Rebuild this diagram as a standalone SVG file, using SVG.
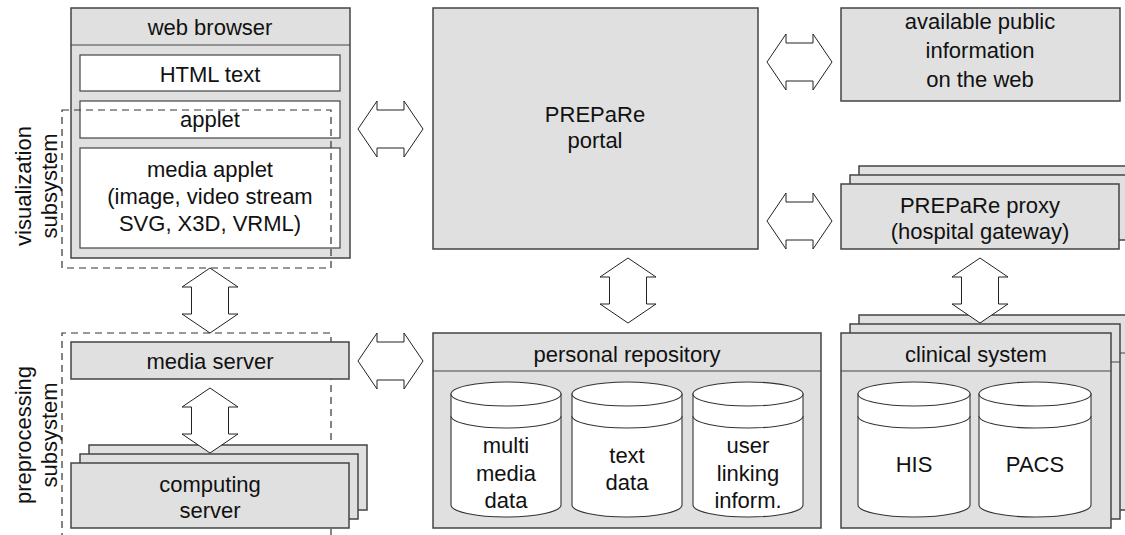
<svg xmlns="http://www.w3.org/2000/svg" width="1125" height="535" viewBox="0 0 1125 535">
<style>
.box{fill:#e0e0e0;stroke:#444;stroke-width:1.5}
.wbox{fill:#fff;stroke:#444;stroke-width:1.2}
.ln{fill:none;stroke:#444;stroke-width:1.2}
.dash{fill:none;stroke:#333;stroke-width:1.2;stroke-dasharray:7,5}
.arr{fill:#fff;stroke:#222;stroke-width:1}
.cyl{fill:#fff;stroke:#333;stroke-width:1.1}
text{font-family:"Liberation Sans",Arial,sans-serif;font-size:22px;fill:#111;text-anchor:middle}
</style>
<defs>
<polygon id="harr" class="arr" points="0,0 19,-28 19,-19 46,-19 46,-28 65,0 46,28 46,19 19,19 19,28"/>
<polygon id="varr" class="arr" points="0,0 -28,19 -18.5,19 -18.5,46 -28,46 0,65 28,46 18.5,46 18.5,19 28,19"/>
</defs>

<g id="web-browser">
<rect class="box" x="71" y="8" width="279" height="250"/>
<line class="ln" x1="71" y1="45" x2="350" y2="45"/>
<text x="210" y="35">web browser</text>
<rect class="wbox" x="80" y="55" width="260" height="36"/>
<text x="210" y="82">HTML text</text>
<rect class="wbox" x="80" y="101" width="260" height="37"/>
<text x="210" y="127">applet</text>
<rect class="wbox" x="80" y="148" width="260" height="100"/>
<text x="210" y="177">media applet</text>
<text x="210" y="204">(image, video stream</text>
<text x="210" y="231">SVG, X3D, VRML)</text>
</g>

<g id="visualization-subsystem">
<rect class="dash" x="62" y="110" width="269" height="158"/>
<text transform="translate(31,186) rotate(-90)">visualization</text>
<text transform="translate(57,186) rotate(-90)">subsystem</text>
</g>

<g id="portal">
<rect class="box" x="433" y="8" width="325" height="241"/>
<text x="595" y="122">PREPaRe</text>
<text x="595" y="148">portal</text>
</g>

<g id="public-info">
<rect class="box" x="841" y="8" width="279" height="93"/>
<text x="980" y="29">available public</text>
<text x="980" y="58">information</text>
<text x="980" y="87">on the web</text>
</g>

<g id="proxy">
<rect class="box" x="859" y="166" width="278" height="65"/>
<rect class="box" x="850" y="175" width="278" height="65"/>
<rect class="box" x="841" y="184" width="278" height="65"/>
<text x="980" y="213">PREPaRe proxy</text>
<text x="980" y="239">(hospital gateway)</text>
</g>

<g id="preprocessing-subsystem">
<path class="dash" d="M62,540 V333 H331 V540"/>
<text transform="translate(31,435) rotate(-90)">preprocessing</text>
<text transform="translate(57,435) rotate(-90)">subsystem</text>
</g>

<g id="media-server">
<rect class="box" x="71" y="342" width="278" height="37"/>
<text x="210" y="369">media server</text>
</g>

<g id="computing-server">
<rect class="box" x="89" y="445" width="278" height="65"/>
<rect class="box" x="80" y="454" width="278" height="65"/>
<rect class="box" x="71" y="463" width="278" height="65"/>
<text x="210" y="492">computing</text>
<text x="210" y="518">server</text>
</g>

<g id="personal-repository">
<rect class="box" x="433" y="333" width="388" height="195"/>
<line class="ln" x1="433" y1="371" x2="821" y2="371"/>
<text x="627" y="362">personal repository</text>
<g id="cyl-multimedia">
<path class="cyl" d="M451,394 V505 A55,12 0 0 0 561,505 V394 Z"/>
<ellipse class="cyl" cx="506" cy="394" rx="55" ry="12"/>
<path class="cyl" d="M451,416 A55,12 0 0 0 561,416"/>
<text x="506" y="453">multi</text>
<text x="506" y="481">media</text>
<text x="506" y="508">data</text>
</g>
<g id="cyl-text">
<path class="cyl" d="M572,394 V505 A55,12 0 0 0 682,505 V394 Z"/>
<ellipse class="cyl" cx="627" cy="394" rx="55" ry="12"/>
<path class="cyl" d="M572,416 A55,12 0 0 0 682,416"/>
<text x="627" y="463">text</text>
<text x="627" y="490">data</text>
</g>
<g id="cyl-user">
<path class="cyl" d="M693,394 V505 A55,12 0 0 0 803,505 V394 Z"/>
<ellipse class="cyl" cx="748" cy="394" rx="55" ry="12"/>
<path class="cyl" d="M693,416 A55,12 0 0 0 803,416"/>
<text x="748" y="453">user</text>
<text x="748" y="481">linking</text>
<text x="748" y="508">inform.</text>
</g>
</g>

<g id="clinical-system">
<rect class="box" x="859" y="315" width="270" height="195"/>
<line class="ln" x1="859" y1="353" x2="1129" y2="353"/>
<rect class="box" x="850" y="324" width="270" height="195"/>
<line class="ln" x1="850" y1="362" x2="1120" y2="362"/>
<rect class="box" x="841" y="333" width="270" height="195"/>
<line class="ln" x1="841" y1="371" x2="1111" y2="371"/>
<text x="976" y="362">clinical system</text>
<g id="cyl-his">
<path class="cyl" d="M858,394 V505 A56,12 0 0 0 970,505 V394 Z"/>
<ellipse class="cyl" cx="914" cy="394" rx="56" ry="12"/>
<path class="cyl" d="M858,416 A56,12 0 0 0 970,416"/>
<text x="914" y="472">HIS</text>
</g>
<g id="cyl-pacs">
<path class="cyl" d="M979,394 V505 A56,12 0 0 0 1091,505 V394 Z"/>
<ellipse class="cyl" cx="1035" cy="394" rx="56" ry="12"/>
<path class="cyl" d="M979,416 A56,12 0 0 0 1091,416"/>
<text x="1035" y="472">PACS</text>
</g>
</g>

<g id="connectors">
<use href="#harr" x="358" y="129"/>
<use href="#harr" x="358" y="361"/>
<use href="#harr" x="767" y="62"/>
<use href="#harr" x="767" y="221"/>
<use href="#varr" x="210" y="268"/>
<use href="#varr" x="210" y="388"/>
<use href="#varr" x="628" y="258"/>
<use href="#varr" x="980" y="258"/>
</g>
</svg>
